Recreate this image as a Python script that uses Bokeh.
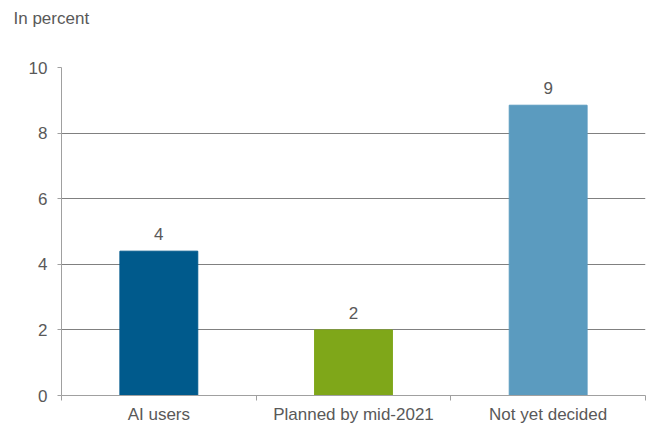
from bokeh.plotting import figure
from bokeh.models import Range1d, FixedTicker, ColumnDataSource, LabelSet
from bokeh.core.properties import value
from bokeh.embed import file_html
from bokeh.resources import INLINE

categories = ["AI users", "Planned by mid-2021", "Not yet decided"]
values = [4.4, 2.0, 8.85]
labels = ["4", "2", "9"]
colors = ["#005a8c", "#7fa719", "#5b9bbf"]
y_ticks = [0, 2, 4, 6, 8, 10]
title_text = "In percent"

xs = [i + 0.5 for i in range(len(categories))]
src = ColumnDataSource(dict(x=xs, top=values, lab=labels, color=colors))

FONT = "Liberation Sans"
TXT = "#595959"
FS = "17px"

p = figure(width=646, height=426, output_backend="svg", toolbar_location=None,
           x_range=Range1d(0, len(categories)), y_range=Range1d(0, 10),
           min_border_left=61, min_border_right=1, min_border_top=67, min_border_bottom=31,
           title=title_text + "\n \n ")
p.outline_line_color = None
p.background_fill_color = "white"

p.title.text_font = FONT
p.title.text_font_style = "normal"
p.title.text_font_size = FS
p.title.text_color = TXT
p.title.align = "left"
p.title.offset = -48
p.title.standoff = 0
p.title.vertical_align = "top"

p.vbar(x="x", top="top", width=0.4, color="color", source=src)

p.add_layout(LabelSet(x="x", y="top", text="lab", source=src, text_align="center",
                      y_offset=11, text_font=value(FONT), text_font_size=value(FS),
                      text_color=TXT))

# y axis
p.yaxis.ticker = FixedTicker(ticks=y_ticks, minor_ticks=[])
p.yaxis.axis_line_color = "#a0a0a0"
p.yaxis.major_tick_line_color = "#a0a0a0"
p.yaxis.major_tick_in = 0
p.yaxis.major_tick_out = 4
p.yaxis.major_label_standoff = 10
p.yaxis.major_label_text_font = FONT
p.yaxis.major_label_text_font_size = FS
p.yaxis.major_label_text_color = TXT

# x axis
p.xaxis.ticker = FixedTicker(ticks=xs, minor_ticks=list(range(len(categories) + 1)))
p.xaxis.major_label_overrides = {x: c for x, c in zip(xs, categories)}
p.xaxis.axis_line_color = "#a0a0a0"
p.xaxis.major_tick_line_color = None
p.xaxis.minor_tick_line_color = "#a0a0a0"
p.xaxis.minor_tick_in = 0
p.xaxis.minor_tick_out = 5
p.xaxis.major_label_standoff = 3
p.xaxis.major_label_text_font = FONT
p.xaxis.major_label_text_font_size = FS
p.xaxis.major_label_text_color = TXT

p.xgrid.grid_line_color = None
p.ygrid.grid_line_color = "#808080"
p.ygrid.grid_line_width = 1

open("out.html", "w").write(file_html(p, INLINE))
